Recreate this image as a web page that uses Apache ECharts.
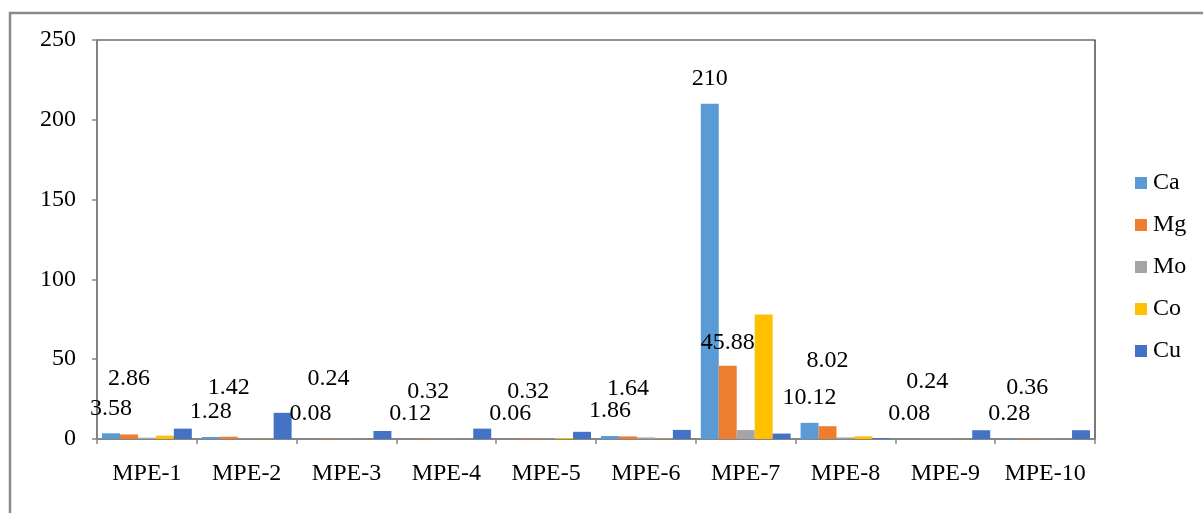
<!DOCTYPE html>
<html>
<head>
<meta charset="utf-8">
<script src="https://cdn.jsdelivr.net/npm/echarts@6/dist/echarts.min.js"></script>
<style>
html,body{margin:0;padding:0;background:#fff;}
#chart{width:1203px;height:513px;}
</style>
</head>
<body>
<div id="chart"></div>
<script>
const categories = ['MPE-1','MPE-2','MPE-3','MPE-4','MPE-5','MPE-6','MPE-7','MPE-8','MPE-9','MPE-10'];
const seriesNames = ['Ca','Mg','Mo','Co','Cu'];
const ca = [3.58, 1.28, 0.08, 0.12, 0.06, 1.86, 210, 10.12, 0.08, 0.28];
const mg = [2.86, 1.42, 0.24, 0.32, 0.32, 1.64, 45.88, 8.02, 0.24, 0.36];
const mo = [0.8, 0.2, 0.1, 0.1, 0.2, 1.0, 5.6, 1.0, 0.1, 0.1];
const co = [2.1, 0.1, 0.05, 0.05, 0.6, 0.2, 78, 1.7, 0.05, 0.05];
const cu = [6.5, 16.4, 5.0, 6.5, 4.5, 5.7, 3.4, 0.6, 5.5, 5.5];
const yTicks = [0, 50, 100, 150, 200, 250];

// label lift (px) of the Mg value labels above their bars, as placed in the original
const mgLabelLift = [44, 37, 48, 35, 35, 36, 11, 53, 45, 39];

const colors = ['#5B9BD5','#ED7D31','#A5A5A5','#FFC000','#4472C4'];
const FONT = '"Liberation Serif", "Times New Roman", serif';
const labelStyle = {show:true, position:'top', color:'#000', fontSize:24, fontFamily:FONT};

const chart = echarts.init(document.getElementById('chart'), null, {renderer:'canvas'});
const values = [ca, mg, mo, co, cu];

const series = seriesNames.map((name, i) => {
  const s = {
    name: name,
    type: 'bar',
    barGap: '0%',
    barCategoryGap: '10%',
    itemStyle: {color: colors[i]},
    data: values[i].slice()
  };
  if (i === 0) {
    s.label = Object.assign({}, labelStyle, {distance: 13});
  } else if (i === 1) {
    s.data = values[i].map((v, k) => ({value: v, label: Object.assign({}, labelStyle, {distance: mgLabelLift[k]})}));
  }
  return s;
});

chart.setOption({
  animation: false,
  color: colors,
  textStyle: {fontFamily: FONT},
  grid: {left: 97, right: 108, top: 40, bottom: 74, show: true, borderColor: '#222', borderWidth: 1.2, backgroundColor: 'transparent'},
  legend: {
    orient: 'vertical',
    left: 1130,
    top: 166,
    itemWidth: 12,
    itemHeight: 12,
    itemGap: 18,
    icon: 'rect',
    textStyle: {fontSize: 24, fontFamily: FONT, color: '#000', padding: [0,0,0,1]},
    data: seriesNames
  },
  xAxis: {
    type: 'category',
    data: categories,
    axisLine: {lineStyle: {color: '#868686', width: 2}},
    axisTick: {show: true, length: 5, interval: 0, alignWithLabel: false, lineStyle: {color: '#868686', width: 1.5}},
    axisLabel: {interval: 0, fontSize: 24, fontFamily: FONT, color: '#000', margin: 23}
  },
  yAxis: {
    type: 'value',
    min: yTicks[0],
    max: yTicks[yTicks.length - 1],
    interval: yTicks[1] - yTicks[0],
    axisLine: {show: true, lineStyle: {color: '#868686', width: 1.5}},
    axisTick: {show: true, length: 5, lineStyle: {color: '#868686', width: 1.5}},
    splitLine: {show: false},
    axisLabel: {fontSize: 24, fontFamily: FONT, color: '#000', margin: 21}
  },
  graphic: [{
    type: 'rect',
    shape: {x: 10, y: 13, width: 1400, height: 800},
    style: {fill: 'none', stroke: '#8a8a8a', lineWidth: 2.5},
    silent: true,
    z: 100
  }],
  series: series
});
</script>
</body>
</html>
